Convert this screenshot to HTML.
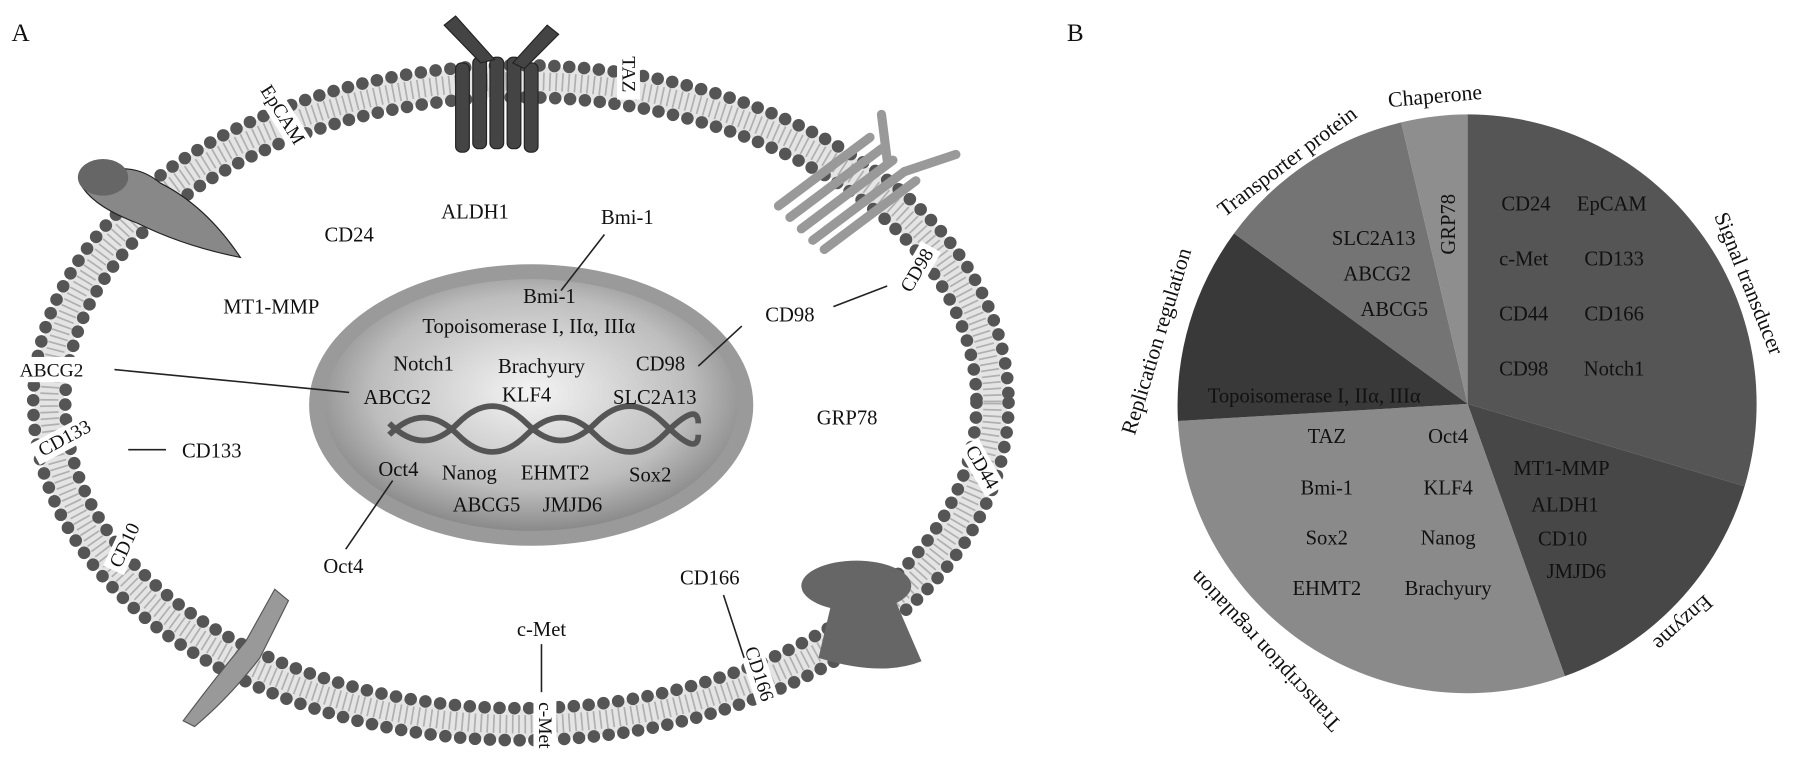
<!DOCTYPE html>
<html><head><meta charset="utf-8"><style>
html,body{margin:0;padding:0;background:#fff;}
svg{display:block;}
text{font-family:"Liberation Serif",serif;fill:#111;}
</style></head><body>
<svg width="1795" height="770" viewBox="0 0 1568 673" preserveAspectRatio="none" xmlns="http://www.w3.org/2000/svg">
<defs>
<radialGradient id="nuc" cx="50%" cy="45%" r="55%">
<stop offset="0" stop-color="#f4f4f4"/><stop offset="0.7" stop-color="#bdbdbd"/><stop offset="1" stop-color="#8a8a8a"/>
</radialGradient>
</defs>
<text x="10" y="36" font-size="22">A</text>
<text x="932" y="36" font-size="22">B</text>

<!-- membrane -->
<ellipse cx="455" cy="352" rx="412" ry="281" fill="none" stroke="#e4e4e4" stroke-width="26"/>
<ellipse cx="455" cy="352" rx="412" ry="281" fill="none" stroke="#b0b0b0" stroke-width="16" stroke-dasharray="1.5 4"/>
<ellipse cx="455" cy="352" rx="426" ry="295" fill="none" stroke="#555" stroke-width="11" stroke-linecap="round" stroke-dasharray="0 13"/>
<ellipse cx="455" cy="352" rx="398" ry="267" fill="none" stroke="#555" stroke-width="11" stroke-linecap="round" stroke-dasharray="0 13"/>

<g font-size="17">
<g transform="translate(244,102) rotate(58)"><rect x="-32" y="-13" width="64" height="20" fill="#fff"/><text text-anchor="middle" y="2">EpCAM</text></g>
<g transform="translate(546,65) rotate(90)"><rect x="-22" y="-13" width="44" height="20" fill="#fff"/><text text-anchor="middle" y="2">TAZ</text></g>
<g transform="translate(804,238) rotate(-60)"><rect x="-24" y="-13" width="48" height="20" fill="#fff"/><text text-anchor="middle" y="2">CD98</text></g>
<g transform="translate(855,410) rotate(60)"><rect x="-24" y="-13" width="48" height="20" fill="#fff"/><text text-anchor="middle" y="2">CD44</text></g>
<g transform="translate(660,590) rotate(72)"><rect x="-30" y="-13" width="60" height="20" fill="#fff"/><text text-anchor="middle" y="2">CD166</text></g>
<g transform="translate(473,634) rotate(90)"><rect x="-26" y="-13" width="52" height="20" fill="#fff"/><text text-anchor="middle" y="2">c-Met</text></g>
<g transform="translate(112,478) rotate(-65)"><rect x="-24" y="-13" width="48" height="20" fill="#fff"/><text text-anchor="middle" y="2">CD10</text></g>
<g transform="translate(58,386) rotate(-28)"><rect x="-30" y="-13" width="60" height="20" fill="#fff"/><text text-anchor="middle" y="2">CD133</text></g>
<g transform="translate(45,326)"><rect x="-34" y="-14" width="68" height="22" fill="#fff"/><text text-anchor="middle" y="3">ABCG2</text></g>
</g>

<!-- proteins -->
<g fill="#444" stroke="#222" stroke-width="1">
<rect x="398" y="55" width="12" height="78" rx="5"/><rect x="413" y="50" width="12" height="80" rx="5"/>
<rect x="428" y="50" width="12" height="80" rx="5"/><rect x="443" y="50" width="12" height="80" rx="5"/><rect x="458" y="55" width="12" height="78" rx="5"/>
<path d="M420 55 L388 22 L398 14 L432 52 Z"/><path d="M448 55 L478 22 L488 30 L458 60 Z"/>
</g>
<g stroke="#999" stroke-width="8" stroke-linecap="round">
<line x1="680" y1="180" x2="760" y2="120"/><line x1="690" y1="190" x2="770" y2="130"/>
<line x1="700" y1="200" x2="780" y2="140"/><line x1="710" y1="210" x2="790" y2="150"/><line x1="720" y1="218" x2="800" y2="158"/>
<line x1="775" y1="140" x2="770" y2="100"/><line x1="790" y1="150" x2="835" y2="135"/>
</g>
<path d="M70 160 Q110 135 140 160 Q180 180 210 225 Q160 215 120 195 Q80 180 70 160Z" fill="#888" stroke="#222"/>
<ellipse cx="90" cy="155" rx="22" ry="16" fill="#666"/>
<g fill="#666"><ellipse cx="748" cy="512" rx="48" ry="22"/><path d="M728 520 L780 520 L805 578 Q770 592 715 575 Z"/></g>
<path d="M160 630 Q190 590 215 560 L240 515 L252 525 L227 575 Q200 610 170 635Z" fill="#999" stroke="#555"/>

<!-- nucleus -->
<ellipse cx="464" cy="354" rx="194" ry="123" fill="#9a9a9a"/>
<ellipse cx="464" cy="354" rx="180" ry="110" fill="url(#nuc)"/>
<g fill="none" stroke="#555" stroke-width="5">
<path d="M340 380 Q370 350 400 380 T460 380 T520 380 T580 380 T610 370"/>
<path d="M340 370 Q370 400 400 370 T460 370 T520 370 T580 370 T610 380"/>
</g>

<g stroke="#222" stroke-width="1.4">
<line x1="528" y1="205" x2="490" y2="254"/><line x1="728" y1="268" x2="775" y2="250"/>
<line x1="648" y1="285" x2="610" y2="320"/><line x1="100" y1="323" x2="305" y2="343"/>
<line x1="112" y1="393" x2="145" y2="393"/><line x1="302" y1="480" x2="343" y2="420"/>
<line x1="632" y1="520" x2="650" y2="575"/><line x1="473" y1="563" x2="473" y2="605"/>
</g>

<g font-size="18" text-anchor="middle">
<text x="415" y="191">ALDH1</text><text x="305" y="211">CD24</text><text x="548" y="196">Bmi-1</text>
<text x="237" y="274">MT1-MMP</text><text x="690" y="281">CD98</text><text x="740" y="371">GRP78</text>
<text x="185" y="400">CD133</text><text x="300" y="501">Oct4</text><text x="620" y="511">CD166</text>
<text x="473" y="556">c-Met</text>
<text x="480" y="265">Bmi-1</text><text x="462" y="291">Topoisomerase I, IIα, IIIα</text>
<text x="370" y="324">Notch1</text><text x="473" y="326">Brachyury</text><text x="577" y="324">CD98</text>
<text x="347" y="353">ABCG2</text><text x="460" y="351">KLF4</text><text x="572" y="353">SLC2A13</text>
<text x="348" y="416">Oct4</text><text x="410" y="419">Nanog</text><text x="485" y="419">EHMT2</text><text x="568" y="421">Sox2</text>
<text x="425" y="447">ABCG5</text><text x="500" y="447">JMJD6</text>
</g>

<!-- pie: center (1282,353) r 253 -->
<g stroke="none">
<path d="M1282 353 L1282 100 A253 253 0 0 1 1524 425 Z" fill="#555"/>
<path d="M1282 353 L1524 425 A253 253 0 0 1 1367 591 Z" fill="#474747"/>
<path d="M1282 353 L1367 591 A253 253 0 0 1 1029 368 Z" fill="#8a8a8a"/>
<path d="M1282 353 L1029 368 A253 253 0 0 1 1078 204 Z" fill="#393939"/>
<path d="M1282 353 L1078 204 A253 253 0 0 1 1224 107 Z" fill="#747474"/>
<path d="M1282 353 L1224 107 A253 253 0 0 1 1282 100 Z" fill="#8e8e8e"/>
</g>
<g font-size="18" text-anchor="middle">
<text x="1333" y="184">CD24</text><text x="1408" y="184">EpCAM</text>
<text x="1331" y="232">c-Met</text><text x="1410" y="232">CD133</text>
<text x="1331" y="280">CD44</text><text x="1410" y="280">CD166</text>
<text x="1331" y="328">CD98</text><text x="1410" y="328">Notch1</text>
<text x="1200" y="214">SLC2A13</text><text x="1203" y="245">ABCG2</text><text x="1218" y="276">ABCG5</text>
<text transform="translate(1271,196) rotate(-90)">GRP78</text>
<text x="1148" y="352">Topoisomerase I, IIα, IIIα</text>
<text x="1159" y="387">TAZ</text><text x="1265" y="387">Oct4</text>
<text x="1159" y="432">Bmi-1</text><text x="1265" y="432">KLF4</text>
<text x="1159" y="476">Sox2</text><text x="1265" y="476">Nanog</text>
<text x="1159" y="520">EHMT2</text><text x="1265" y="520">Brachyury</text>
<text x="1364" y="415">MT1-MMP</text><text x="1367" y="447">ALDH1</text>
<text x="1365" y="477">CD10</text><text x="1377" y="505">JMJD6</text>
</g>
<g font-size="19" text-anchor="middle">
<text transform="translate(1254,90) rotate(-5)">Chaperone</text>
<text transform="translate(1128,146) rotate(-37)">Transporter protein</text>
<text transform="translate(1016,300) rotate(-73)">Replication regulation</text>
<text transform="translate(1522,250) rotate(68)">Signal transducer</text>
<text transform="translate(1466,540) rotate(138)">Enzyme</text>
<text transform="translate(1110,565) rotate(227)">Transcription regulation</text>
</g>
</svg>
</body></html>
